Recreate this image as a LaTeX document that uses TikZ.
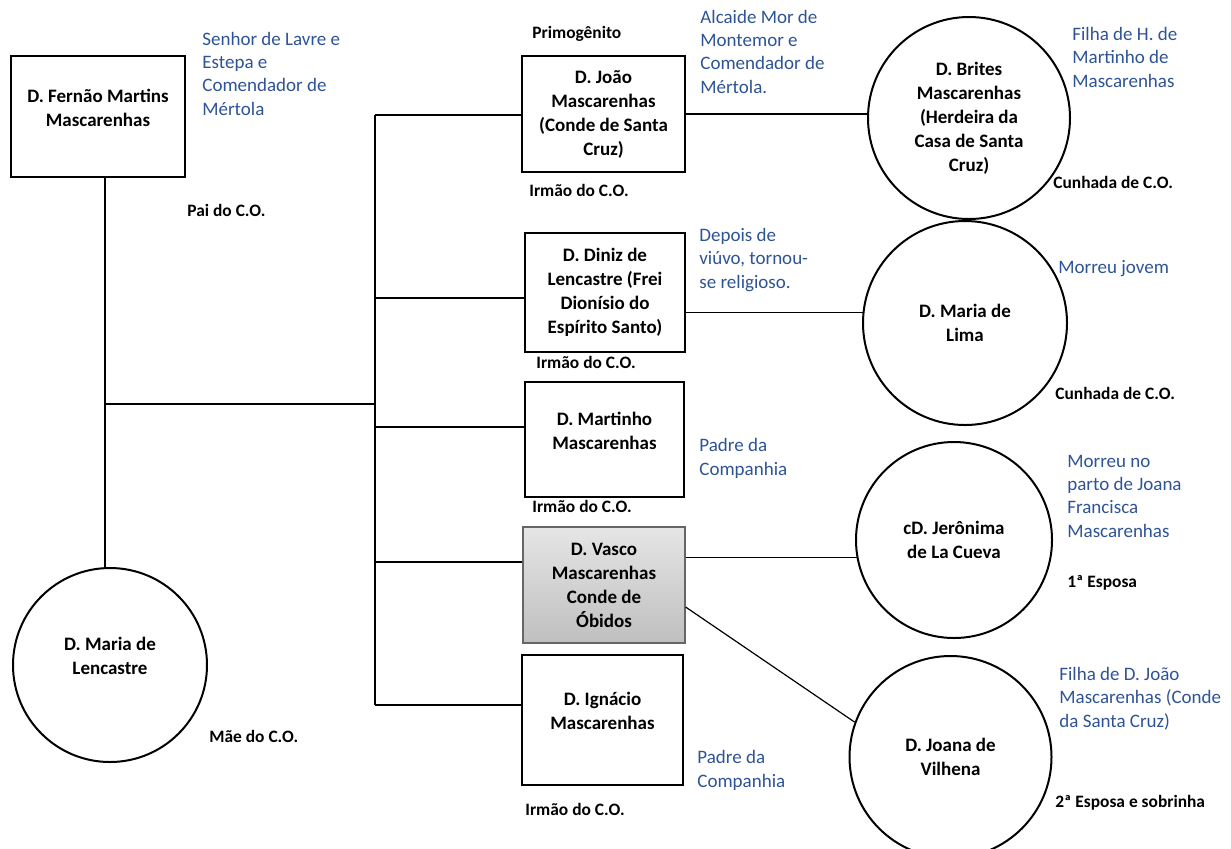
\documentclass[tikz,border=0pt]{standalone}
\usepackage{fontspec}
\setmainfont{Carlito}
\definecolor{noteblue}{RGB}{46,84,150}

\tikzset{
  person/.style={draw, line width=1pt, align=center, inner sep=0pt,
                 font=\bfseries\fontsize{9.5}{12}\selectfont},
  boxnode/.style={person, rectangle},
  ringnode/.style={person, circle},
  note/.style={anchor=base west, align=left, inner sep=0pt, text=noteblue,
               font=\fontsize{9.5}{11.6}\selectfont},
  tag/.style={anchor=base west, inner sep=0pt,
              font=\bfseries\fontsize{8.7}{10}\selectfont},
  link/.style={line width=0.6pt}
}

\begin{document}
\begin{tikzpicture}[x=0.5pt, y=-0.5pt]
  \path[use as bounding box, fill=white] (0,0) rectangle (1231,848);

  % parents
  \node[boxnode, minimum width=87pt, minimum height=60.5pt] (fernao) at (98,116.5)
    {D. Fernão Martins\\Mascarenhas\\[-3pt]\mbox{}};
  \node[ringnode, minimum size=97pt] (lencastre) at (110,665)
    {D. Maria de\\Lencastre\\[-3pt]\mbox{}};

  % children
  \node[boxnode, minimum width=81.5pt, minimum height=58pt] (joao) at (603.5,114)
    {D. João\\Mascarenhas\\(Conde de Santa\\Cruz)};
  \node[boxnode, minimum width=80pt, minimum height=59.5pt] (diniz) at (605,292.5)
    {D. Diniz de\\Lencastre (Frei\\Dionísio do\\Espírito Santo)};
  \node[boxnode, minimum width=79.5pt, minimum height=57.5pt] (martinho) at (604.5,439.5)
    {D. Martinho\\Mascarenhas\\[-3pt]\mbox{}};
  \node[boxnode, minimum width=81pt, minimum height=58pt, line width=0.6pt, draw=gray!80!black,
        top color=gray!20, bottom color=gray!50] (vasco) at (604,585)
    {D. Vasco\\Mascarenhas\\Conde de\\Óbidos};
  \node[boxnode, minimum width=80.5pt, minimum height=65pt] (ignacio) at (602.5,720)
    {D. Ignácio\\Mascarenhas\\[-3pt]\mbox{}};

  % spouses
  \node[ringnode, minimum size=101pt] (brites) at (969,118)
    {D. Brites\\Mascarenhas\\(Herdeira da\\Casa de Santa\\Cruz)};
  \node[ringnode, minimum size=102pt] (lima) at (965,323) {D. Maria de\\Lima};
  \node[ringnode, minimum size=98pt] (jeronima) at (954,540) {cD. Jerônima\\de La Cueva};
  \node[ringnode, minimum size=101pt] (joana) at (950.5,757) {D. Joana de\\Vilhena};

  % trunk
  \coordinate (mid) at (105,404);
  \coordinate (ttop) at (375,115);
  \coordinate (t2) at (375,298);
  \coordinate (t3) at (375,427);
  \coordinate (t4) at (375,562);
  \coordinate (tbot) at (375,705);

  \draw[link] (fernao.south -| mid) -- (lencastre.north -| mid);
  \draw[link] (mid) -- (mid -| ttop);
  \draw[link] (ttop) -- (tbot);
  \draw[link] (ttop) -- (ttop -| joao.west);
  \draw[link] (t2) -- (t2 -| diniz.west);
  \draw[link] (t3) -- (t3 -| martinho.west);
  \draw[link] (t4) -- (t4 -| vasco.west);
  \draw[link] (tbot) -- (tbot -| ignacio.west);

  \draw[link] (joao.east) -- (joao.east -| brites.west);
  \draw[link] (lima.174 -| diniz.east) -- (lima.174);
  \draw[link] (jeronima.190 -| vasco.east) -- (jeronima.190);
  \draw[link] ([yshift=-11pt]vasco.east) -- (joana.160);

  % notes (multi-line notes sit on their last baseline)
  \node[note] (n-fernao) at (202,115) {Senhor de Lavre e\\Estepa e\\Comendador de\\Mértola};
  \node[tag] (t-fernao) at (187,216) {Pai do C.O.};
  \node[tag] (t-lencastre) at (209,742) {Mãe do C.O.};

  \node[tag] (p-joao) at (532,38) {Primogênito};
  \node[note] (n-joao) at (700,93) {Alcaide Mor de\\Montemor e\\Comendador de\\Mértola.};
  \node[tag] (t-joao) at (529,196) {Irmão do C.O.};
  \node[note] (n-brites) at (1072,87) {Filha de H. de\\Martinho de\\Mascarenhas};
  \node[tag] (t-brites) at (1053,188) {Cunhada de C.O.};

  \node[note] (n-diniz) at (699,288) {Depois de\\viúvo, tornou-\\se religioso.};
  \node[tag] (t-diniz) at (536,368) {Irmão do C.O.};
  \node[note] (n-lima) at (1058,273) {Morreu jovem};
  \node[tag] (t-lima) at (1055,399) {Cunhada de C.O.};

  \node[note] (n-martinho) at (699,475) {Padre da\\Companhia};
  \node[tag] (t-martinho) at (532,512) {Irmão do C.O.};

  \node[note] (n-jeronima) at (1067,537) {Morreu no\\parto de Joana\\Francisca\\Mascarenhas};
  \node[tag] (t-jeronima) at (1067,587) {1ª Esposa};
  \node[note] (n-joana) at (1059,727) {Filha de D. João\\Mascarenhas (Conde\\da Santa Cruz)};
  \node[tag] (t-joana) at (1055,807) {2ª Esposa e sobrinha};

  \node[note] (n-ignacio) at (697,787) {Padre da\\Companhia};
  \node[tag] (t-ignacio) at (525,815) {Irmão do C.O.};
\end{tikzpicture}
\end{document}
